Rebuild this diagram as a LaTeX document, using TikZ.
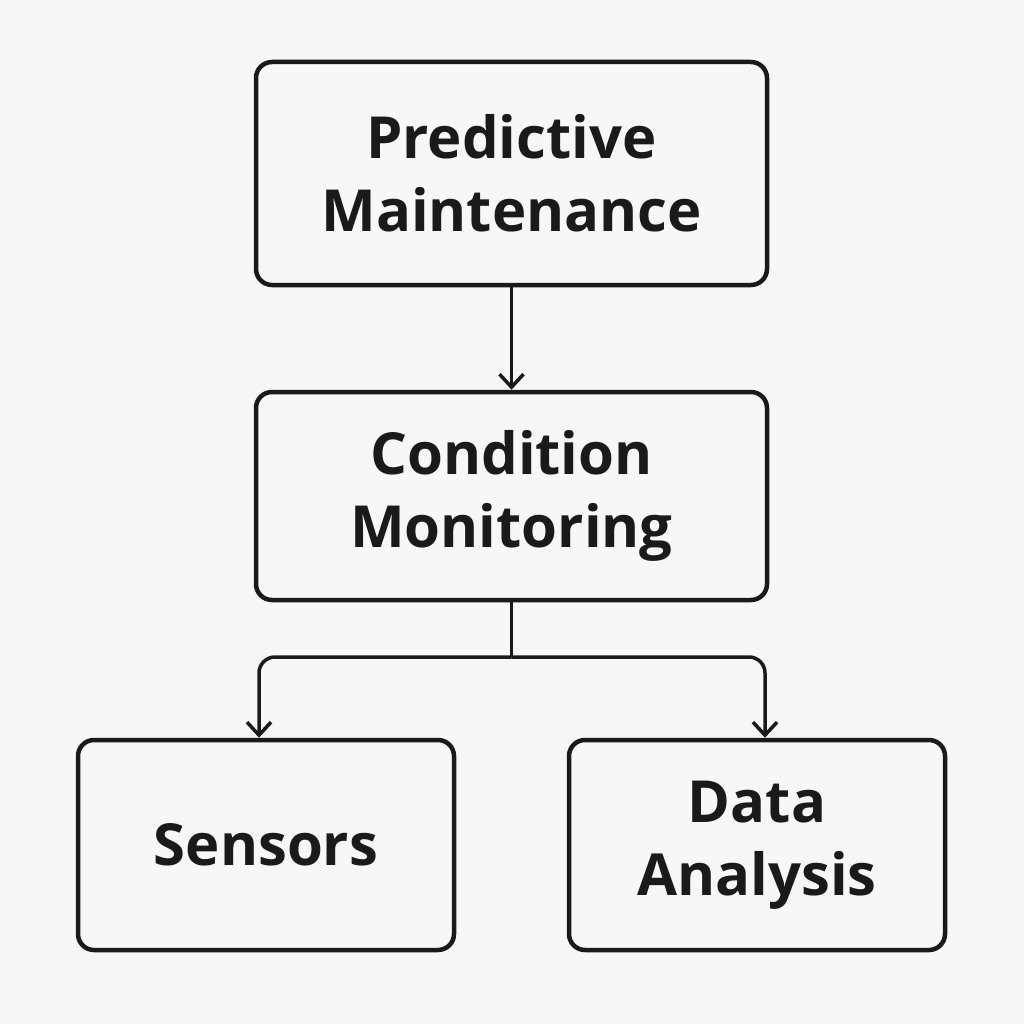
\documentclass[tikz,border=0pt]{standalone}
\usepackage{fontspec}
\setmainfont{Open Sans}
\usetikzlibrary{arrows.meta}
\definecolor{ink}{HTML}{1A1A1A}
\begin{document}
\begin{tikzpicture}[x=1pt,y=-1pt,
  box/.style={draw=ink,line width=4.5pt,rounded corners=16pt,align=center,inner sep=0pt,
    font=\fontsize{58}{73}\selectfont\bfseries,text=ink},
  conn/.style={draw=ink,line width=3.5pt,-{Straight Barb[length=13pt,width=24pt,line width=3.5pt]}}]
\fill[white!97!black] (0,0) rectangle (1024,1024);
\useasboundingbox (0,0) rectangle (1024,1024);
\node[box,minimum width=511pt,minimum height=223pt] (pm) at (511.5,173.5) {Predictive\\Maintenance};
\node[box,minimum width=511pt,minimum height=208pt] (cm) at (511.5,496) {Condition\\Monitoring};
\node[box,minimum width=376pt,minimum height=210pt] (s) at (266,845) {Sensors};
\node[box,minimum width=376pt,minimum height=210pt] (da) at (757,845) {Data\\Analysis};
\draw[conn] (pm.south) -- (cm.north);
\coordinate (j) at (511.5,657);
\draw[draw=ink,line width=3.5pt] (cm.south) -- (j);
\draw[conn,rounded corners=16pt] (j) -| ([xshift=-7pt]s.north);
\draw[conn,rounded corners=16pt] (j) -| ([xshift=8pt]da.north);
\end{tikzpicture}
\end{document}
